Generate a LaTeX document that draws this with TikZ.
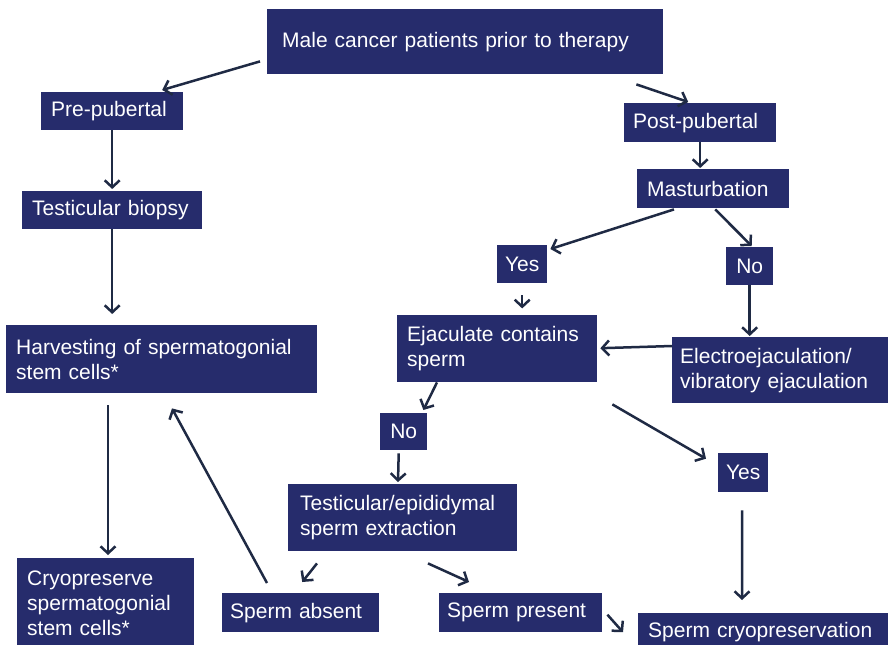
\documentclass[tikz,border=0pt]{standalone}
\usepackage{fontspec}
\setmainfont{Liberation Sans}
\usepackage{xcolor}
\definecolor{boxNavy}{HTML}{262C6C}
\definecolor{arrowInk}{HTML}{1F2A44}
\usetikzlibrary{arrows.meta,calc}

\begin{document}
\begin{tikzpicture}[x=1pt, y=-1pt,
  stage/.style={fill=boxNavy, text=white, anchor=north west, align=left,
    inner xsep=10pt, inner ysep=0pt,
    font=\fontsize{21}{25}\selectfont},
  answer/.style={stage, align=center, inner xsep=0pt},
  flow/.style={draw=arrowInk, line width=2.5pt,
    -{Straight Barb[length=7pt, width=15pt, line width=2.5pt]}}]
  \fill[white] (0,0) rectangle (889,645);
  \useasboundingbox (0,0) rectangle (889,645);

  % boxes, placed by their top left corner
  \node[stage, text width=366pt, inner xsep=15pt, minimum height=65pt] (male) at (267,9) {Male cancer patients prior to therapy};
  \node[stage, text width=122pt, minimum height=38pt] (pre) at (41,92) {Pre-pubertal};
  \node[stage, text width=160pt, minimum height=38pt] (biopsy) at (22,191) {Testicular biopsy};
  \node[stage, text width=291pt, minimum height=68pt] (harvest) at (6,325) {Harvesting of spermatogonial\\stem cells*};
  \node[stage, text width=157pt, minimum height=90pt] (cryossc) at (17,558) {Cryopreserve\\spermatogonial\\stem cells*};
  \node[stage, text width=134pt, inner xsep=9pt, minimum height=39pt] (post) at (624,103) {Post-pubertal};
  \node[stage, text width=132pt, minimum height=39pt] (mast) at (637,169) {Masturbation};
  \node[answer, minimum width=50pt, minimum height=38pt] (yesa) at (497,245) {Yes};
  \node[answer, minimum width=47pt, minimum height=38pt] (noa) at (726,247) {No};
  \node[stage, text width=180pt, minimum height=67pt] (ejac) at (397,315) {Ejaculate contains\\sperm};
  \node[stage, text width=200pt, inner xsep=8pt, minimum height=66pt] (electro) at (672,337) {Electroejaculation/\\vibratory ejaculation};
  \node[answer, minimum width=47pt, minimum height=37pt] (nob) at (380,413) {No};
  \node[stage, text width=205pt, inner xsep=12pt, minimum height=67pt] (tese) at (288,484) {Testicular/epididymal\\sperm extraction};
  \node[answer, minimum width=50pt, minimum height=39pt] (yesb) at (718,453) {Yes};
  \node[stage, text width=141pt, inner xsep=8pt, minimum height=39pt] (absent) at (222,593) {Sperm absent};
  \node[stage, text width=147pt, inner xsep=8pt, minimum height=39pt] (present) at (439,593) {Sperm present};
  \node[stage, text width=230pt, minimum height=38pt] (spermcryo) at (638,613) {Sperm cryopreservation};

  % arrows
  \draw[flow] ($(male.south west)+(-7,-13)$) -- ($(pre.north)+(50,-2)$);
  \draw[flow] ($(male.south east)+(-27,10)$) -- ($(post.north)+(-12,-1)$);
  \draw[flow, shorten >=2pt] (pre.south) -- (biopsy.north);
  \draw[flow, shorten >=11pt] (biopsy.south) -- (biopsy.south |- harvest.north);
  \draw[flow] ($(harvest.south west)+(102,12)$) -- ($(cryossc.north west)+(91,-3)$);
  \draw[flow] ($(absent.north west)+(45,-10)$) -- ($(harvest.south west)+(166,15)$);
  \draw[flow, shorten >=1pt] (post.south) -- (post.south |- mast.north);
  \draw[flow] ($(mast.south west)+(37,1)$) -- ($(yesa.north east)+(3,4)$);
  \draw[flow] ($(mast.south)+(2,1)$) -- ($(noa.north)+(2,-1)$);
  \draw[flow] ($(yesa.south)+(0,12)$) -- ($(yesa.south)+(0,25)$);
  \draw[flow, shorten >=1pt] (noa.south) -- (noa.south |- electro.north);
  \draw[flow] ($(electro.north west)+(0,9)$) -- ($(ejac.east)+(3,-0.5)$);
  \draw[flow] ($(ejac.south west)+(40,0)$) -- ($(nob.north east)+(-4,-3)$);
  \draw[flow] ($(ejac.south east)+(15,22)$) -- ($(yesb.west)+(-12,-14)$);
  \draw[flow] ($(nob.south)+(-5,3)$) -- ($(tese.north west)+(110,-2)$);
  \draw[flow] ($(tese.south west)+(29,12)$) -- ($(absent.north)+(1.5,-11)$);
  \draw[flow] ($(tese.south west)+(140,12)$) -- ($(present.north west)+(30,-11)$);
  \draw[flow] ($(yesb.south)+(-1,18)$) -- ($(spermcryo.north west)+(104,-13)$);
  \draw[flow] ($(present.east)+(5,2)$) -- ($(spermcryo.west)+(-15,0)$);
\end{tikzpicture}
\end{document}
